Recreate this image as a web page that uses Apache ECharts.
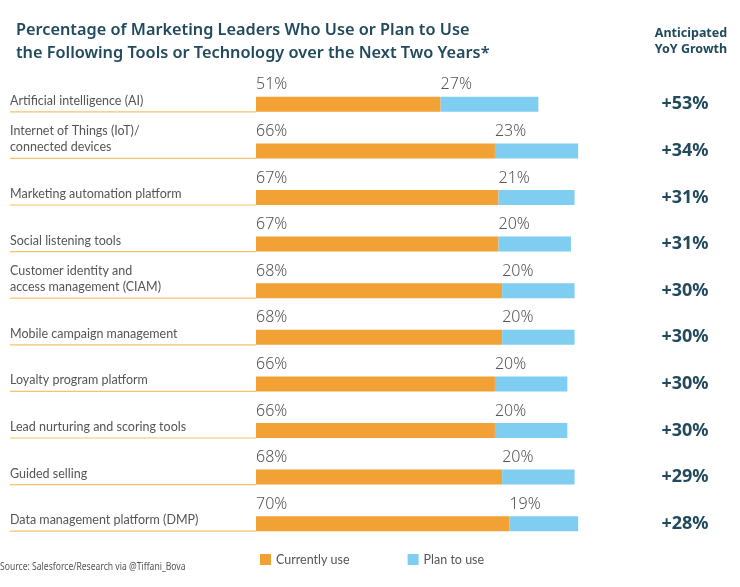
<!DOCTYPE html>
<html>
<head>
<meta charset="utf-8">
<script src="https://cdn.jsdelivr.net/npm/echarts@6/dist/echarts.min.js"></script>
<style>
  html, body { margin: 0; padding: 0; background: #fff; }
  #chart { width: 740px; height: 587px; }
</style>
</head>
<body>
<div id="chart"></div>
<script>
const herramientas = [
    'Artificial intelligence (AI)',
    'Internet of Things (IoT)/\nconnected devices',
    'Marketing automation platform',
    'Social listening tools',
    'Customer identity and\naccess management (CIAM)',
    'Mobile campaign management',
    'Loyalty program platform',
    'Lead nurturing and scoring tools',
    'Guided selling',
    'Data management platform (DMP)'
];
const usoActual = [51, 66, 67, 67, 68, 68, 66, 66, 68, 70];
const planUso = [27, 23, 21, 20, 20, 20, 20, 20, 20, 19];
const crecimiento = ['+53%', '+34%', '+31%', '+31%', '+30%', '+30%', '+30%', '+30%', '+29%', '+28%'];

const naranja = '#F2A134';
const celeste = '#80CDF2';
const gris = '#555555';
const teal = '#214a5c';

const chart = echarts.init(document.getElementById('chart'));

const etiquetaBarra = {
    show: true,
    position: [0, -4],
    align: 'left',
    verticalAlign: 'bottom',
    color: gris,
    fontSize: 16,
    fontFamily: 'Noto Sans',
    fontWeight: 300,
    formatter: '{c}%'
};

chart.setOption({
    animation: false,
    title: [
        {
            text: 'Percentage of Marketing Leaders Who Use or Plan to Use\nthe Following Tools or Technology over the Next Two Years*',
            left: 11,
            top: 14,
            textStyle: {
                color: teal, fontSize: 16.3, fontWeight: 600, lineHeight: 23,
                fontFamily: 'Noto Sans'
            }
        },
        {
            text: 'Anticipated\nYoY Growth',
            left: 686,
            top: 20,
            textAlign: 'center',
            textStyle: {
                color: teal, fontSize: 12.5, fontWeight: 'bold', lineHeight: 16,
                fontFamily: 'Noto Sans'
            }
        }
    ],
    graphic: [
        {
            type: 'text',
            left: 0,
            top: 561,
            scaleX: 0.78,
            style: {
                text: 'Source: Salesforce/Research via @Tiffani_Bova',
                fill: gris,
                fontSize: 11,
                fontFamily: 'Noto Sans'
            }
        }
    ],
    legend: {
        left: 255,
        top: 548,
        itemWidth: 11,
        itemHeight: 11,
        itemGap: 58,
        icon: 'rect',
        textStyle: { color: gris, fontSize: 12.5, fontFamily: 'Lato' },
        data: ['Currently use', 'Plan to use']
    },
    grid: { left: 256, top: 81, width: 362, height: 466 },
    xAxis: {
        type: 'value',
        min: 0,
        max: 100,
        show: false
    },
    yAxis: [
        {
            type: 'category',
            data: herramientas,
            inverse: true,
            axisLine: { show: false },
            axisTick: { show: false },
            axisLabel: { show: false }
        },
        {
            type: 'category',
            data: crecimiento,
            inverse: true,
            position: 'right',
            axisLine: { show: false },
            axisTick: { show: false },
            axisLabel: {
                margin: 67,
                align: 'center',
                color: teal,
                fontSize: 18,
                fontWeight: 'bold',
                fontFamily: 'Noto Sans'
            }
        }
    ],
    series: [
        {
            name: 'Currently use',
            type: 'bar',
            stack: 'uso',
            barWidth: 15,
            itemStyle: { color: naranja },
            label: etiquetaBarra,
            data: usoActual
        },
        {
            name: 'Plan to use',
            type: 'bar',
            stack: 'uso',
            barWidth: 15,
            itemStyle: { color: celeste },
            label: etiquetaBarra,
            data: planUso
        },
        {
            name: 'rotulos',
            type: 'custom',
            silent: true,
            encode: { x: 0, y: 1 },
            data: herramientas.map((h, i) => [0, i]),
            renderItem: function (params, api) {
                const i = api.value(1);
                const p = api.coord([0, i]);
                const inicio = params.coordSys.x - 246;
                const base = p[1] + 7.5;
                return {
                    type: 'group',
                    children: [
                        {
                            type: 'line',
                            shape: { x1: inicio, y1: base, x2: p[0], y2: base },
                            style: { stroke: '#F5C46A', lineWidth: 1.2 }
                        },
                        {
                            type: 'text',
                            style: {
                                text: herramientas[i],
                                x: inicio,
                                y: base - 3,
                                verticalAlign: 'bottom',
                                fill: gris,
                                fontSize: 12.5,
                                lineHeight: 16,
                                fontFamily: 'Lato'
                            }
                        }
                    ]
                };
            }
        }
    ]
});
</script>
</body>
</html>
